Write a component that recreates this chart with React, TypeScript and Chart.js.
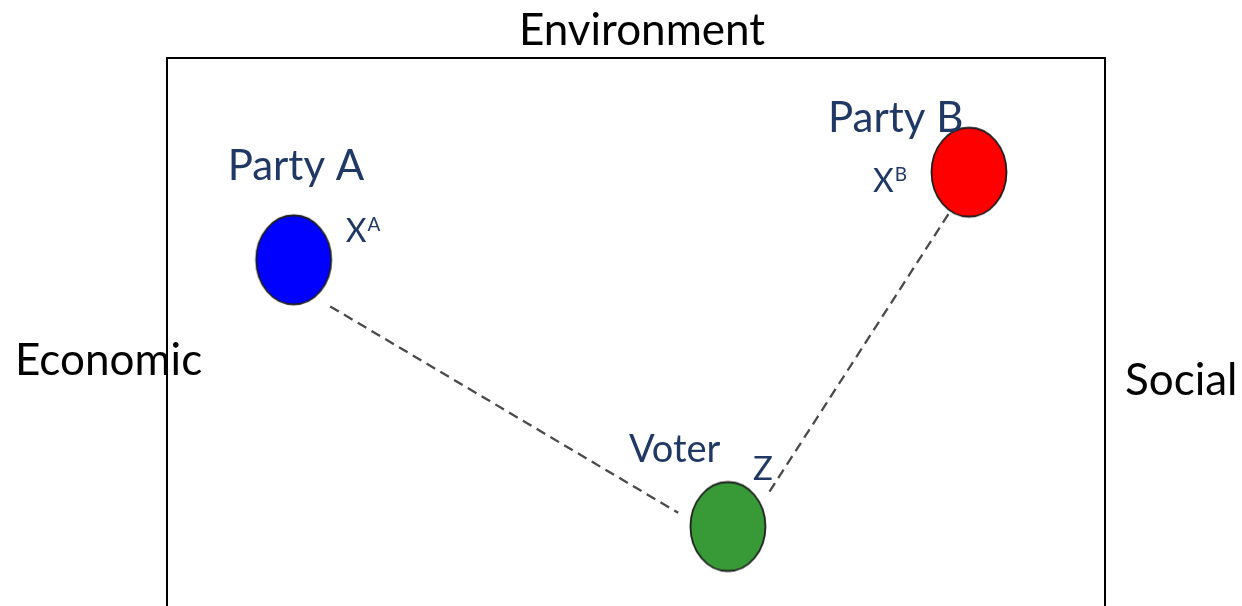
import React, { useEffect, useRef } from "react";
import { Chart, registerables } from "chart.js";

Chart.register(...registerables);

// ---- data ----
const axisTop = "Environment";
const axisLeft = "Economic";
const axisRight = "Social";

const pointNames = ["Party A", "Party B", "Voter"];
const pointSymbols = ["X", "X", "Z"];
const pointSupers = ["A", "B", ""];
const pointX = [1.35, 8.55, 5.98];
const pointY = [3.79, 4.75, 0.87];
const pointColors = ["#0000FF", "#FF0000", "#379A37"];

const linkAX = [1.74, 5.45];
const linkAY = [3.28, 1.02];
const linkBX = [8.33, 6.39];
const linkBY = [4.29, 1.2];

const X_MIN = 0, X_MAX = 10, Y_MIN = 0, Y_MAX = 6;

// ---- styles ----
const FONT = "Lato";
const NAVY = "#1F3864";
// label offsets relative to point centre (px): [nameDx, nameDy, symDx, symDy]
const labelOffsets = [
  [-66, -80, 52, -18],
  [-141, -40, -96, 20],
  [-99, -65, 25, -47],
];
const nameSizes = [42, 42, 38];
const symSizes = [32, 32, 33];

function makeEllipse(color: string): HTMLCanvasElement {
  const c = document.createElement("canvas");
  c.width = 80;
  c.height = 94;
  const ctx = c.getContext("2d")!;
  ctx.beginPath();
  ctx.ellipse(40, 47, 37.5, 44.5, 0, 0, Math.PI * 2);
  ctx.fillStyle = color;
  ctx.fill();
  ctx.lineWidth = 1.8;
  ctx.strokeStyle = "#1e1e1e";
  ctx.stroke();
  return c;
}

const decorPlugin = {
  id: "decor",
  beforeDatasetsDraw(chart: any) {
    const { ctx, chartArea } = chart;
    const { left, top, right, bottom } = chartArea;
    ctx.save();
    ctx.strokeStyle = "#000";
    ctx.lineWidth = 2;
    ctx.beginPath();
    ctx.moveTo(left, bottom + 5);
    ctx.lineTo(left, top);
    ctx.lineTo(right, top);
    ctx.lineTo(right, bottom + 5);
    ctx.stroke();
    ctx.restore();
  },
  afterDatasetsDraw(chart: any) {
    const { ctx, chartArea, scales } = chart;
    const { left, top, right } = chartArea;
    ctx.save();
    ctx.fillStyle = "#000";
    ctx.font = `44px ${FONT}`;
    ctx.textBaseline = "alphabetic";
    ctx.textAlign = "center";
    ctx.fillText(axisTop, (left + right) / 2 + 6, top - 13);
    ctx.textAlign = "left";
    ctx.fillText(axisLeft, 15, 375);
    ctx.fillText(axisRight, right + 20, 395);

    ctx.fillStyle = NAVY;
    for (let i = 0; i < pointNames.length; i++) {
      const px = scales.x.getPixelForValue(pointX[i]);
      const py = scales.y.getPixelForValue(pointY[i]);
      const [ndx, ndy, sdx, sdy] = labelOffsets[i];
      ctx.font = `${nameSizes[i]}px ${FONT}`;
      ctx.fillText(pointNames[i], px + ndx, py + ndy);
      ctx.font = `${symSizes[i]}px ${FONT}`;
      ctx.fillText(pointSymbols[i], px + sdx, py + sdy);
      const w = ctx.measureText(pointSymbols[i]).width;
      if (pointSupers[i]) {
        ctx.font = `19px ${FONT}`;
        ctx.fillText(pointSupers[i], px + sdx + w + 1, py + sdy - 11);
      }
    }
    ctx.restore();
  },
};

export default function App() {
  const ref = useRef<HTMLCanvasElement | null>(null);
  useEffect(() => {
    if (!ref.current) return;
    const styles = pointColors.map(makeEllipse);
    const chart = new Chart(ref.current, {
      type: "scatter",
      data: {
        datasets: [
          {
            label: "points",
            data: pointX.map((x, i) => ({ x, y: pointY[i] })),
            pointStyle: styles as any,
            pointRadius: 2,
            showLine: false,
          },
          {
            label: "A-link",
            data: linkAX.map((x, i) => ({ x, y: linkAY[i] })),
            showLine: true,
            pointRadius: 0,
            borderColor: "#4a4a4a",
            borderWidth: 2.3,
            borderDash: [10, 6],
          },
          {
            label: "B-link",
            data: linkBX.map((x, i) => ({ x, y: linkBY[i] })),
            showLine: true,
            pointRadius: 0,
            borderColor: "#4a4a4a",
            borderWidth: 2.3,
            borderDash: [10, 6],
          },
        ],
      },
      options: {
        animation: false,
        responsive: true,
        maintainAspectRatio: false,
        layout: { autoPadding: false, padding: { left: 167, top: 58, right: 137, bottom: 0 } },
        plugins: { legend: { display: false }, tooltip: { enabled: false } },
        scales: {
          x: { type: "linear", min: X_MIN, max: X_MAX, display: false },
          y: { type: "linear", min: Y_MIN, max: Y_MAX, display: false },
        },
      },
      plugins: [decorPlugin],
    });
    return () => chart.destroy();
  }, []);
  return (
    <div style={{ position: "fixed", left: 0, top: 0, width: 1242, height: 606, background: "#fff" }}>
      <canvas ref={ref} style={{ width: 1242, height: 606 }} />
    </div>
  );
}
